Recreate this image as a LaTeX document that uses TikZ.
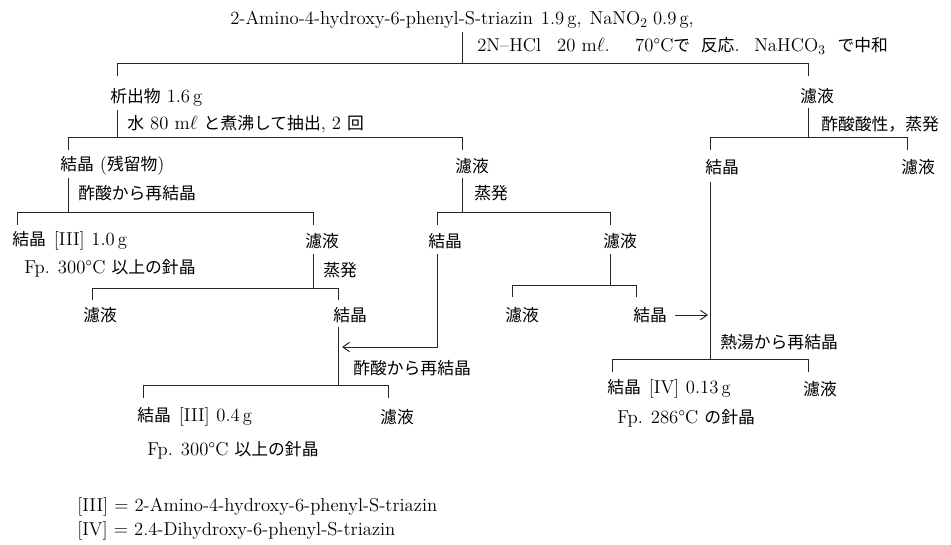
\documentclass[tikz,border=0pt]{standalone}
\usepackage{fontspec}
\newfontfamily\jp{Noto Sans CJK JP}[Scale=0.9]
\newcommand{\J}[1]{{\jp #1}}
\usetikzlibrary{arrows.meta}
\begin{document}
\begin{tikzpicture}[x=0.75pt,y=-0.75pt,
  lbl/.style={anchor=west,inner sep=0pt,font=\fontsize{14}{16}\selectfont},
  ln/.style={line width=0.75pt,draw=black!85},
  arr/.style={ln,-{Straight Barb[length=5pt,width=7pt]}}]
\useasboundingbox (0,0) rectangle (951,544);
% texts
\node[lbl] (top) at (230,20) {2-Amino-4-hydroxy-6-phenyl-S-triazin\hspace{6pt}1.9\,g,\hspace{6pt}NaNO$_2$\hspace{4pt}0.9\,g,};
\node[lbl] (cond) at (477,46) {2N–HCl\hspace{12pt}20 m$\ell$.\hspace{19pt}70°C\J{で}\hspace{8pt}\J{反応}.\hspace{11pt}NaHCO$_3$\hspace{9pt}\J{で中和}};
\node[lbl] (a1) at (110,97) {\J{析出物} 1.6\,g};
\node[lbl] (a1c) at (127,124) {\J{水} 80 m$\ell$ \J{と煮沸して抽出}, 2 \J{回}};
\node[lbl] (b1) at (800,96) {\J{濾液}};
\node[lbl] (b1c) at (821,124) {\J{酢酸酸性，蒸発}};
\node[lbl] (a2) at (60,166) {\J{結晶} (\J{残留物})};
\node[lbl] (m2) at (455,166) {\J{濾液}};
\node[lbl] (b2) at (705,167) {\J{結晶}};
\node[lbl] (b3) at (901,167) {\J{濾液}};
\node[lbl] (a2c) at (78,193) {\J{酢酸から再結晶}};
\node[lbl] (m2c) at (474,193) {\J{蒸発}};
\node[lbl] (a3) at (12,241) {\J{結晶}\hspace{6pt}[III]\hspace{5pt}1.0\,g};
\node[lbl] (a4) at (305,241) {\J{濾液}};
\node[lbl] (m3) at (428,241) {\J{結晶}};
\node[lbl] (m4) at (603,241) {\J{濾液}};
\node[lbl] (a3f) at (24,268) {Fp. 300°C \J{以上の針晶}};
\node[lbl] (a4c) at (323,270) {\J{蒸発}};
\node[lbl] (a5) at (83,315) {\J{濾液}};
\node[lbl] (a6) at (333,315) {\J{結晶}};
\node[lbl] (m5) at (505,315) {\J{濾液}};
\node[lbl] (m6) at (633,315) {\J{結晶}};
\node[lbl] (b2c) at (720,342) {\J{熱湯から再結晶}};
\node[lbl] (a6c) at (353,368) {\J{酢酸から再結晶}};
\node[lbl] (b4) at (607,389) {\J{結晶}\hspace{6pt}[IV]\hspace{5pt}0.13\,g};
\node[lbl] (b5) at (803,389) {\J{濾液}};
\node[lbl] (b4f) at (617,418) {Fp.\hspace{6pt}286°C \J{の針晶}};
\node[lbl] (a7) at (137,417) {\J{結晶}\hspace{6pt}[III]\hspace{5pt}0.4\,g};
\node[lbl] (a8) at (380,417) {\J{濾液}};
\node[lbl] (a7f) at (147,450) {Fp. 300°C \J{以上の針晶}};
\node[lbl] (leg1) at (77,507) {[III] = 2-Amino-4-hydroxy-6-phenyl-S-triazin};
\node[lbl] (leg2) at (77,531) {[IV] = 2.4-Dihydroxy-6-phenyl-S-triazin};
% lines
\draw[ln] (462,32) -- (462,63);
\draw[ln] (117,76) -- (117,63) -- (808,63) -- (808,76);
\draw[ln] (117,110) -- (117,137);
\draw[ln] (68,150) -- (68,137) -- (462,137) -- (462,150);
\draw[ln] (808,108) -- (808,137);
\draw[ln] (710,150) -- (710,137) -- (907,137) -- (907,150);
\draw[ln] (68,178) -- (68,212);
\draw[ln] (17,225) -- (17,212) -- (313,212) -- (313,225);
\draw[ln] (462,178) -- (462,212);
\draw[ln] (437,225) -- (437,212) -- (610,212) -- (610,225);
\draw[ln] (313,254) -- (313,288);
\draw[ln] (92,300) -- (92,288) -- (338,288) -- (338,300);
\draw[ln] (610,254) -- (610,285);
\draw[ln] (512,297) -- (512,285) -- (636,285) -- (636,297);
\draw[arr] (437,254) -- (437,347) -- (342,347);
\draw[ln] (338,327) -- (338,385);
\draw[ln] (143,398) -- (143,385) -- (388,385) -- (388,398);
\draw[ln] (710,182) -- (710,359);
\draw[ln] (612,372) -- (612,359) -- (808,359) -- (808,372);
\draw[arr] (m6.east) ++(8,0) -- (708,315);
\end{tikzpicture}
\end{document}
